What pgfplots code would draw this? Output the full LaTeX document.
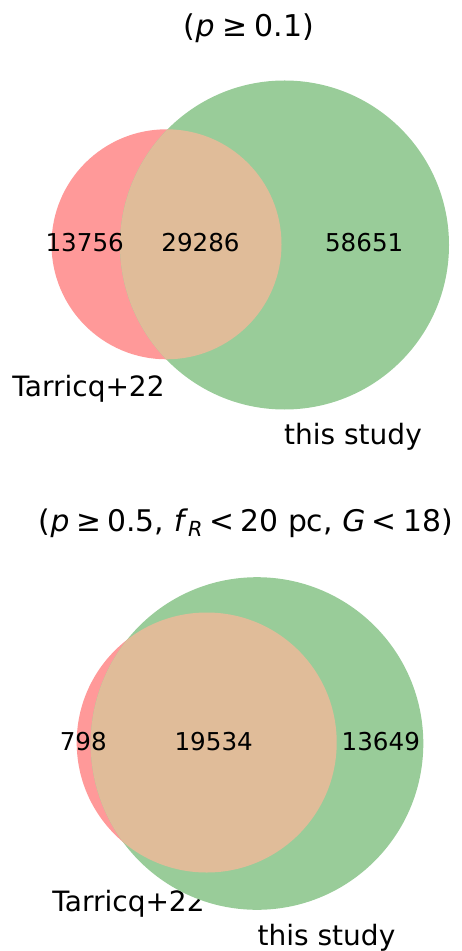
\documentclass[border=0pt]{standalone}
\usepackage{fontspec}
\setmainfont{DejaVu Sans}
\usepackage{pgfplots}
\usepackage{pgfplotstable}
\pgfplotsset{compat=1.18}

\definecolor{vred}{HTML}{FF9999}
\definecolor{vgreen}{HTML}{99CC99}
\definecolor{vboth}{HTML}{E0BC99}

% circles A (Tarricq+22) and B (this study): centre x, centre y, radius, in picture pixels
\pgfplotstableread{
ax     ay     ar    bx     by     br
166.5  244.3  115   284.5  245.0  164.5
206.7  742.5  130   257.0  743.5  166.3
}\circles
% region counts
\pgfplotstableread{
x      y      n
84.7   242.5  13756
200.5  242.5  29286
364.2  242.5  58651
83.3   742.0  798
213.7  742.0  19534
380.8  742.0  13649
}\counts

% filled disc of radius \rad, and the part of it that lies in the disc of
% radius \grad centred (\gdx,\gdy) away
\pgfdeclareplotmark{disc}{%
  \pgfpathcircle{\pgfpointorigin}{\rad pt}\pgfusepathqfill}
\pgfdeclareplotmark{lens}{%
  \pgfpathcircle{\pgfpoint{\gdx pt}{\gdy pt}}{\grad pt}\pgfusepathqclip
  \pgfpathcircle{\pgfpointorigin}{\rad pt}\pgfusepathqfill}

\newcommand{\rel}[2][0.25em]{\hspace{#1}#2\hspace{#1}}

\begin{document}
\begin{tikzpicture}
\begin{axis}[
  hide axis, scale only axis,
  x=0.5pt, y=0.5pt, y dir=reverse,
  xmin=0, xmax=461, ymin=0, ymax=951,
  clip=false,
  venn/.style={scatter, only marks, scatter/use mapped color={draw=#1, fill=#1}},
]
\addplot[venn=vred, mark=disc,
  visualization depends on={\thisrow{ar}/2 \as \rad}]
  table[x=ax, y=ay] {\circles};
\addplot[venn=vgreen, mark=disc,
  visualization depends on={\thisrow{br}/2 \as \rad}]
  table[x=bx, y=by] {\circles};
\addplot[venn=vboth, mark=lens,
  visualization depends on={\thisrow{ar}/2 \as \rad},
  visualization depends on={\thisrow{br}/2 \as \grad},
  visualization depends on={(\thisrow{bx}-\thisrow{ax})/2 \as \gdx},
  visualization depends on={(\thisrow{ay}-\thisrow{by})/2 \as \gdy}]
  table[x=ax, y=ay] {\circles};

\addplot[only marks, mark=none, nodes near coords, point meta=explicit symbolic,
  nodes near coords style={anchor=center, inner sep=0pt, font=\fontsize{12.3}{14}\selectfont}]
  table[meta=n] {\counts};

\node[anchor=base, inner sep=0pt, font=\fontsize{15}{18}\selectfont] at (axis cs:249,37)
  {(\textit{p}\rel{≥}0.1)};
\node[anchor=base, inner sep=0pt, font=\fontsize{14.9}{18}\selectfont] at (axis cs:246,531)
  {(\textit{p}\rel[0.22em]{≥}0.5, \textit{f}\raisebox{-0.2em}{\fontsize{10.4}{12}\selectfont\textit{R}}\rel[0.22em]{<}20 pc, \textit{G}\rel[0.22em]{<}18)};

\node[anchor=base, inner sep=0pt, font=\fontsize{14}{17}\selectfont] at (axis cs:88.5,396) {Tarricq+22};
\node[anchor=base, inner sep=0pt, font=\fontsize{14}{17}\selectfont] at (axis cs:353,444) {this study};
\node[anchor=base, inner sep=0pt, font=\fontsize{14}{17}\selectfont] at (axis cs:128.5,911.5) {Tarricq+22};
\node[anchor=base, inner sep=0pt, font=\fontsize{14}{17}\selectfont] at (axis cs:326.5,945) {this study};
\end{axis}
\path (current axis.south west) rectangle (current axis.north east);
\end{tikzpicture}
\end{document}
